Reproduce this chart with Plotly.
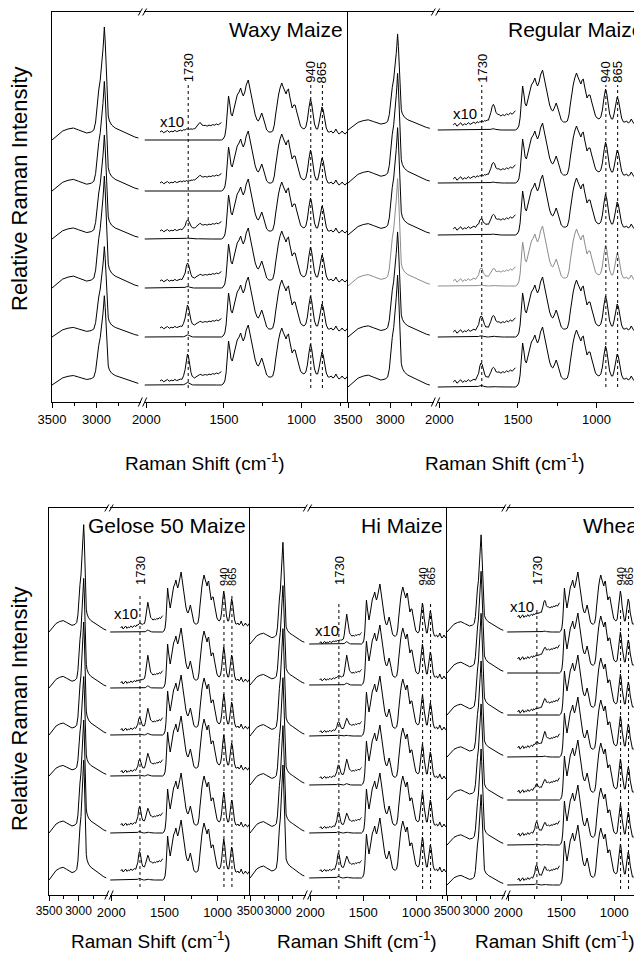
import numpy as np
import plotly.graph_objects as go

# the page body adds an 8 px margin; the figure is sized and positioned to compensate
OFF = 8
W, H = 642 - OFF, 956 - OFF
FONT = "Liberation Sans, Arial, Helvetica, sans-serif"

# ---------------- data ----------------
PANEL_NAMES = ["Waxy Maize", "Regular Maize", "Gelose 50 Maize", "Hi Maize", "Wheat"]
X_TITLE = "Raman Shift (cm<sup>-1</sup>)"
Y_TITLE = "Relative Raman Intensity"
X10_LABEL = "x10"
MARKER_BANDS = [1730, 940, 865]
TICKS_LEFT = [3500, 3000]
MINOR_LEFT = [3250, 2750]
TICKS_RIGHT = [2000, 1500, 1000]
MINOR_RIGHT = [1750, 1250, 750]

# C-H stretching region (shared spectral shape, intensity above baseline)
CH_X = [3500, 3440, 3380, 3320, 3260, 3200, 3150, 3110, 3060, 3030, 3010, 2995, 2975, 2958,
        2945, 2935, 2928, 2920, 2912, 2902, 2893, 2884, 2876, 2868, 2855, 2830, 2790, 2740,
        2680, 2620, 2570, 2530]
CH_Y = [0, 5, 9, 11, 12, 10, 8, 7, 8, 10, 18, 35, 50, 60,
        78, 88, 90, 100, 113, 98, 80, 55, 35, 24, 19, 15, 12, 10,
        7, 5, 3, 2]

# fingerprint region (shared spectral shape)
FP_X = [1505, 1494, 1486, 1478, 1470, 1462, 1454, 1446, 1436, 1426,
        1414, 1402, 1392, 1383, 1375, 1365, 1356, 1343, 1333, 1322,
        1310, 1298, 1286, 1278, 1268, 1256, 1246, 1236, 1224, 1210,
        1196, 1185, 1175, 1166, 1158, 1148, 1138, 1127, 1118, 1108,
        1099, 1091, 1084, 1076, 1068, 1060, 1050, 1041, 1030, 1018,
        1006, 996, 984, 972, 962, 952, 942, 934, 926, 916,
        904, 896, 888, 878, 868, 860, 850, 840, 828, 818,
        808, 798, 788, 778, 768, 758, 748, 738, 728, 718,
        708, 698]
FP_Y = [1, 4, 12, 28, 44, 36, 26, 24, 30, 38,
        45, 48, 52, 47, 44, 48, 55, 60, 52, 42,
        32, 25, 20, 19, 22, 27, 22, 15, 10, 8,
        8, 9, 15, 26, 36, 45, 52, 57, 53, 48,
        46, 50, 51, 44, 36, 32, 35, 35, 28, 20,
        14, 12, 11, 13, 20, 32, 41, 36, 26, 16,
        11, 11, 16, 26, 33, 30, 20, 12, 8, 8,
        9, 7, 8, 11, 8, 6, 7, 9, 7, 6,
        8, 7]

# x10 expanded 1900-1500 region
INS_X = [1912, 1900, 1888, 1876, 1864, 1852, 1840, 1828, 1816, 1804,
         1792, 1780, 1770, 1760, 1750, 1742, 1735, 1728, 1720, 1712,
         1704, 1696, 1688, 1680, 1672, 1664, 1656, 1648, 1640, 1630,
         1620, 1608, 1596, 1584, 1572, 1560, 1548, 1536, 1526, 1516]
INS_NOISE = [0.0, 1.2, -0.8, 0.5, 1.5, -0.3, 0.8, 0.2, 1.6, 0.4,
             1.1, 1.9, 0.9, 2.2, 1.5, 2.4, 2.0, 2.8, 2.1, 3.0,
             2.6, 3.3, 2.9, 3.8, 4.2, 4.6, 4.4, 5.2, 4.8, 5.6,
             6.4, 5.8, 6.9, 6.3, 7.4, 6.8, 8.0, 7.2, 8.6, 9.5]
CO_BAND = [0, 0, 0, 0, 0, 0, 0, 0, 0, 0,
           0, 0, 0.03, 0.12, 0.4, 0.78, 1.0, 0.85, 0.5, 0.22,
           0.08, 0.02, 0, 0, 0, 0, 0, 0, 0, 0,
           0, 0, 0, 0, 0, 0, 0, 0, 0, 0]
WATER_BAND = [0, 0, 0, 0, 0, 0, 0, 0, 0, 0,
              0, 0, 0, 0, 0, 0, 0, 0, 0, 0,
              0, 0, 0.03, 0.15, 0.45, 0.82, 1.0, 0.72, 0.4, 0.17,
              0.06, 0.02, 0, 0, 0, 0, 0, 0, 0, 0]

# per-trace values for each panel (baseline height, C-H scale, 1730 band, 1650 band, x10 lift)
WAXY_BASE = [262, 211, 163, 114, 65, 17]
WAXY_CH = [1.0, 0.97, 0.92, 0.99, 0.80, 0.79]
WAXY_CO = [1, 0, 9, 16, 21, 25]
WAXY_W = [5, 3, 3, 2, 2, 2]
WAXY_LIFT = [8, 8, 8, 7, 9, 4]

REG_BASE = [272, 219, 167, 116, 65, 15]
REG_CH = [0.85, 0.97, 0.95, 0.95, 0.93, 0.99]
REG_CO = [0, 0, 7, 10, 13, 16]
REG_W = [14, 10, 8, 6, 10, 8]
REG_LIFT = [5, 4, 6, 5, 5, 5]

GEL_BASE = [263, 207, 160, 119, 62, 15]
GEL_CH = [0.95, 0.97, 1.0, 0.88, 1.0, 1.06]
GEL_CO = [2, 0, 10, 10, 16, 17]
GEL_W = [20, 22, 16, 13, 11, 10]
GEL_LIFT = [4, 5, 5, 4, 8, 9]

HI_BASE = [251, 210, 159, 110, 62, 17]
HI_CH = [0.90, 0.88, 0.95, 0.95, 0.95, 1.0]
HI_CO = [0, 2, 8, 11, 14, 16]
HI_W = [24, 20, 9, 14, 10, 10]
HI_LIFT = [1, 5, 4, 7, 5, 7]

WHEAT_BASE = [263, 222, 180, 138, 95, 50, 10]
WHEAT_CH = [0.86, 0.90, 0.90, 0.85, 0.85, 0.85, 0.80]
WHEAT_CO = [0, 0, 0, 3, 5, 10, 12]
WHEAT_W = [10, 5, 7, 10, 6, 6, 7]
WHEAT_LIFT = [15, 14, 3, 9, 8, 10, 5]

PANEL_DATA = [
    (WAXY_BASE, WAXY_CH, WAXY_CO, WAXY_W, WAXY_LIFT),
    (REG_BASE, REG_CH, REG_CO, REG_W, REG_LIFT),
    (GEL_BASE, GEL_CH, GEL_CO, GEL_W, GEL_LIFT),
    (HI_BASE, HI_CH, HI_CO, HI_W, HI_LIFT),
    (WHEAT_BASE, WHEAT_CH, WHEAT_CO, WHEAT_W, WHEAT_LIFT),
]
INS_TILT = [1.0, 1.5, 1.3, 1.1, 1.5]

# ---------------- layout (pixel positions in the 642x956 picture) ----------------
ROWS = [
    dict(top=12, bot=402, title_y=29, lab_y=68, lab2_y=72, xt_y=462, yt_y=189, tickL=13, tickR=13, band=13),
    dict(top=508, bot=895, title_y=525, lab_y=570, lab2_y=577, xt_y=940, yt_y=709, tickL=12, tickR=13, band=11),
]
PANELS = [
    dict(row=0, L=(52, 141), R=(144, 348), Lr=(3500, 2500), Rr=(2015, 700), tx=345, x10=(172, 122), xt=205, dot=(317, 14)),
    dict(row=0, L=(348, 434), R=(437, 642), Lr=(3500, 2480), Rr=(2015, 710), tx=645, x10=(465, 113), xt=505, dot=(317, 15)),
    dict(row=1, L=(49, 108), R=(110, 250), Lr=(3500, 2500), Rr=(2012, 695), tx=248, x10=(126, 613), xt=151, dot=(300, 8)),
    dict(row=1, L=(250, 306), R=(309, 447), Lr=(3500, 2500), Rr=(2012, 710), tx=445, x10=(327, 630), xt=357, dot=(293, 6)),
    dict(row=1, L=(447, 505), R=(507, 642), Lr=(3500, 2500), Rr=(2012, 738), tx=646, x10=(522, 606), xt=555, dot=(285, 6)),
]


def px(x):
    return (x - OFF) / W


def py(y):
    return 1 - (y - OFF) / H


def ax_id(n):
    return "" if n == 1 else str(n)


fig = go.Figure()
layout = {}
annotations = []
shapes = []

CO = np.array(CO_BAND)
WB = np.array(WATER_BAND)
NOISE = np.array(INS_NOISE)
CHY = np.array(CH_Y)
FPY = np.array(FP_Y)

for k, cfg in enumerate(PANELS):
    row = ROWS[cfg["row"]]
    nl, nr, ny = 2 * k + 1, 2 * k + 2, k + 1
    xl, xr, ya = "x" + ax_id(nl), "x" + ax_id(nr), "y" + ax_id(ny)
    ydom = [py(row["bot"]), py(row["top"])]
    hgt = row["bot"] - row["top"]
    common = dict(showgrid=False, zeroline=False, showline=True, linecolor="black", linewidth=1,
                  mirror=True, ticks="outside", ticklen=5, tickwidth=1, tickcolor="black",
                  tickangle=0, automargin=False, anchor=ya, fixedrange=True)
    layout["xaxis" + ax_id(nl)] = dict(domain=[px(cfg["L"][0]), px(cfg["L"][1])], range=list(cfg["Lr"]),
                                       tickmode="array", tickvals=TICKS_LEFT,
                                       tickfont=dict(size=row["tickL"], family=FONT, color="#000000"),
                                       minor=dict(tickmode="array", tickvals=MINOR_LEFT, ticks="outside", ticklen=3, tickcolor="black"),
                                       **common)
    layout["xaxis" + ax_id(nr)] = dict(domain=[px(cfg["R"][0]), min(1.0, px(cfg["R"][1]))], range=list(cfg["Rr"]),
                                       tickmode="array", tickvals=TICKS_RIGHT,
                                       tickfont=dict(size=row["tickR"], family=FONT, color="#000000"),
                                       minor=dict(tickmode="array", tickvals=MINOR_RIGHT, ticks="outside", ticklen=3, tickcolor="black"),
                                       **common)
    layout["yaxis" + ax_id(ny)] = dict(domain=ydom, range=[0, hgt], anchor=xl, showgrid=False, zeroline=False,
                                       showline=True, linecolor="black", linewidth=1, showticklabels=False,
                                       ticks="", fixedrange=True, automargin=False)

    base, chs, co, wb, lift = PANEL_DATA[k]
    for i in range(len(base)):
        col = "#8c8c8c" if (k == 1 and i == 3) else "black"
        ln = dict(color=col, width=1)
        fig.add_trace(go.Scatter(x=CH_X, y=base[i] + chs[i] * CHY, xaxis=xl, yaxis=ya,
                                 mode="lines", line=ln, hoverinfo="skip"))
        small = (co[i] * CO + wb[i] * WB) / 10.0
        fig.add_trace(go.Scatter(x=[2010] + INS_X + FP_X,
                                 y=base[i] + np.concatenate([[0.0], small, FPY]),
                                 xaxis=xr, yaxis=ya, mode="lines", line=ln, hoverinfo="skip"))
        fig.add_trace(go.Scatter(x=INS_X,
                                 y=base[i] + lift[i] + INS_TILT[k] * NOISE + co[i] * CO + wb[i] * WB,
                                 xaxis=xr, yaxis=ya, mode="lines", line=ln, hoverinfo="skip"))

    # dotted marker lines and labels
    for j, band in enumerate(MARKER_BANDS):
        shapes.append(dict(type="line", xref=xr, yref=ya, x0=band, x1=band, y0=cfg["dot"][1], y1=cfg["dot"][0],
                           line=dict(color="black", width=1, dash="dot")))
        annotations.append(dict(xref=xr, yref="paper", x=band, y=py(row["lab_y"] if j == 0 else row["lab2_y"]),
                                text=str(band), textangle=-90, showarrow=False, xanchor="center", yanchor="middle",
                                font=dict(size=(13 if j == 0 else row["band"]), family=FONT, color="black")))
    # panel title
    annotations.append(dict(xref="paper", yref="paper", x=px(cfg["tx"]), y=py(row["title_y"]), text=PANEL_NAMES[k],
                            showarrow=False, xanchor="right", yanchor="middle",
                            font=dict(size=21, family=FONT, color="black")))
    # x10 label
    annotations.append(dict(xref="paper", yref="paper", x=px(cfg["x10"][0]), y=py(cfg["x10"][1]), text=X10_LABEL,
                            showarrow=False, xanchor="center", yanchor="middle",
                            font=dict(size=15, family=FONT, color="black")))
    # x axis title
    annotations.append(dict(xref="paper", yref="paper", x=px(cfg["xt"]), y=py(row["xt_y"]), text=X_TITLE,
                            showarrow=False, xanchor="center", yanchor="middle",
                            font=dict(size=19, family=FONT, color="black")))
    # axis break marks
    bx = (cfg["L"][1] + cfg["R"][0]) / 2.0
    for yb, hh in ((row["bot"], 4.5), (row["top"], 3.5)):
        for dx in (-2.2, 2.2):
            shapes.append(dict(type="line", xref="paper", yref="paper",
                               x0=px(bx + dx - 2.0), y0=py(yb + hh), x1=px(bx + dx + 2.0), y1=py(yb - hh),
                               line=dict(color="black", width=1)))

for row in ROWS:
    annotations.append(dict(xref="paper", yref="paper", x=px(19), y=py(row["yt_y"]), text=Y_TITLE,
                            textangle=-90, showarrow=False, xanchor="center", yanchor="middle",
                            font=dict(size=22, family=FONT, color="black")))

layout.update(dict(template="none", width=W, height=H, autosize=False,
                   margin=dict(l=0, r=0, t=0, b=0, pad=0), paper_bgcolor="white",
                   plot_bgcolor="white", showlegend=False, annotations=annotations, shapes=shapes,
                   font=dict(family=FONT, color="black")))
fig.update_layout(**layout)
fig.write_html("out.html")
